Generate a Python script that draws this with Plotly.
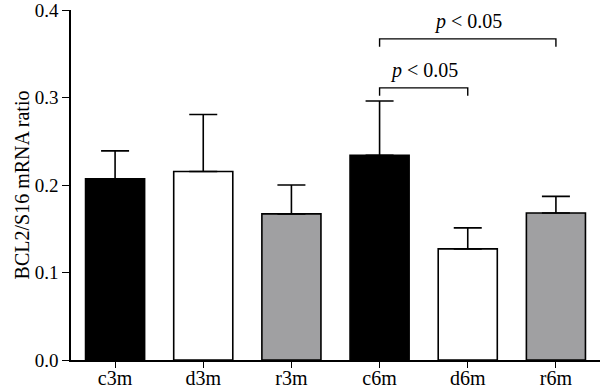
import plotly.graph_objects as go

categories = ["c3m", "d3m", "r3m", "c6m", "d6m", "r6m"]
means = [0.207, 0.2155, 0.167, 0.234, 0.127, 0.168]
errors = [0.032, 0.065, 0.033, 0.062, 0.024, 0.019]
bar_colors = ["#000000", "#ffffff", "#a0a0a2", "#000000", "#ffffff", "#a0a0a2"]
y_ticks = [0.0, 0.1, 0.2, 0.3, 0.4]
y_tick_labels = ["0.0", "0.1", "0.2", "0.3", "0.4"]
comparisons = [("c6m", "d6m"), ("c6m", "r6m")]
comparison_levels = [0.311, 0.367]
comparison_labels = ["<i>p</i> < 0.05", "<i>p</i> < 0.05"]

FONT = "Liberation Serif"

fig = go.Figure()
fig.add_trace(go.Bar(
    x=categories, y=means,
    marker=dict(color=bar_colors, line=dict(color="#000000", width=1.6)),
    width=0.67,
    error_y=dict(type="data", symmetric=False, array=errors,
                 arrayminus=[0] * len(errors),
                 color="#000000", thickness=1.6, width=14),
    showlegend=False,
))

shapes = []
annotations = []
tick_drop = 0.009
for (a, b), lvl, lab in zip(comparisons, comparison_levels, comparison_labels):
    xa = categories.index(a)
    xb = categories.index(b)
    shapes.append(dict(type="path", xref="x", yref="y",
                       path=f"M {xa},{lvl - tick_drop} L {xa},{lvl} L {xb},{lvl} L {xb},{lvl - tick_drop}",
                       line=dict(color="#000000", width=1.4)))
    annotations.append(dict(x=(xa + xb) / 2, y=lvl, xref="x", yref="y",
                            text=lab, showarrow=False, yanchor="bottom",
                            yshift=4, font=dict(family=FONT, size=20, color="#000000")))

fig.update_layout(
    width=600, height=390,
    margin=dict(l=71, r=0, t=10, b=30),
    plot_bgcolor="#ffffff", paper_bgcolor="#ffffff",
    font=dict(family=FONT, size=19, color="#000000"),
    shapes=shapes, annotations=annotations,
    bargap=0.33,
)
fig.update_xaxes(
    range=[-0.5, 5.5], showline=True, linecolor="#000000", linewidth=1.6,
    ticks="outside", ticklen=6, tickwidth=1.4, tickcolor="#000000",
    showgrid=False, zeroline=False, ticklabeloverflow="allow",
    automargin=False, ticklabelstandoff=-7,
    tickfont=dict(family=FONT, size=20),
)
fig.update_yaxes(
    range=[0, 0.4], showline=True, linecolor="#000000", linewidth=1.6,
    ticks="outside", ticklen=7, tickwidth=1.4, tickcolor="#000000",
    tickvals=y_ticks, ticktext=y_tick_labels, ticklabeloverflow="allow",
    showgrid=False, zeroline=False, automargin=False,
    tickfont=dict(family=FONT, size=19),
    title=dict(text="BCL2/S16 mRNA ratio", font=dict(family=FONT, size=20), standoff=0),
)

fig.write_html("out.html", config={"displayModeBar": False},
               post_script="document.body.style.margin='0';document.body.style.padding='0';")
